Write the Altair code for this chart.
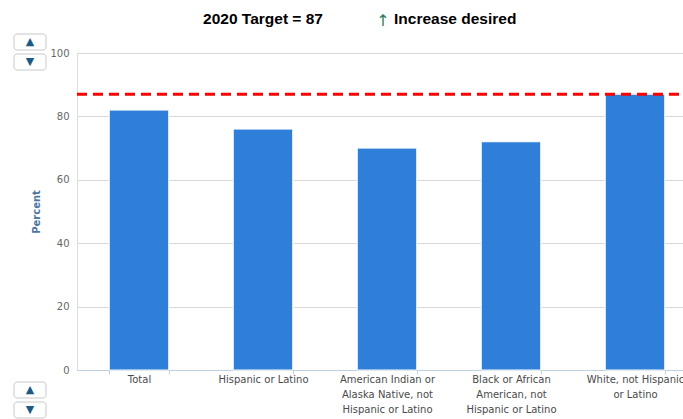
import altair as alt
import pandas as pd

categories = ["Total", "Hispanic or Latino",
              "American Indian or\nAlaska Native, not\nHispanic or Latino",
              "Black or African\nAmerican, not\nHispanic or Latino",
              "White, not Hispanic\nor Latino"]
values = [82, 76, 70, 72, 87]
target = [87]
y_ticks = [0, 20, 40, 60, 80, 100]

df = pd.DataFrame({"group": categories, "pct": values})
tdf = pd.DataFrame({"target": target})

W, H = 606, 317

x_enc = alt.X("group:N", sort=categories, title=None,
              scale=alt.Scale(range=[0, 620], paddingInner=0.52, paddingOuter=0.26),
              axis=alt.Axis(labelAngle=0, labelExpr="split(datum.label, '\\n')",
                            labelFont="DejaVu Sans", labelFontSize=10, labelColor="#4A4A4A",
                            labelLineHeight=15, labelPadding=0, labelBaseline="top",
                            domainColor="#C0D0E0", tickColor="#C0D0E0", tickSize=4,
                            tickBand="extent", grid=False, labelLimit=200))

bars = alt.Chart(df).mark_bar(color="#2F7ED8", stroke="#ffffff", strokeWidth=1).encode(
    x=x_enc,
    y=alt.Y("pct:Q", title="Percent",
            scale=alt.Scale(domain=[0, 100], nice=False),
            axis=alt.Axis(values=y_ticks, domain=False, ticks=False, gridColor="#D8D8D8",
                          labelFont="DejaVu Sans", labelFontSize=10, labelColor="#666666",
                          labelPadding=8, titleFont="DejaVu Sans", titleFontSize=10,
                          titleColor="#4D759E", titleFontWeight="bold", titlePadding=8)),
)

rule = alt.Chart(tdf).mark_rule(color="#FF0000", strokeWidth=3, strokeDash=[10, 6]).encode(
    y="target:Q", x=alt.value(0), x2=alt.value(W))

txt1 = alt.Chart(tdf).mark_text(text="2020 Target = 87", font="Liberation Sans", fontSize=15.5,
                                fontWeight="bold", align="center", baseline="middle",
                                color="#000000").encode(x=alt.value(186), y=alt.value(-34))
arrow = alt.Chart(tdf).mark_text(text="↑", font="DejaVu Sans", fontSize=16,
                                 align="center", baseline="middle",
                                 color="#2E7D5B").encode(x=alt.value(306), y=alt.value(-32))
txt2 = alt.Chart(tdf).mark_text(text="Increase desired", font="Liberation Sans", fontSize=15.5,
                                fontWeight="bold", align="left", baseline="middle",
                                color="#000000").encode(x=alt.value(317), y=alt.value(-34))

# navigation buttons (decoration, pixel positions relative to plot area)
btn_df = pd.DataFrame({"sym": ["▲", "▼", "▲", "▼"],
                       "y0": [-19, 1, 329, 349],
                       "y1": [-3, 17, 345, 365],
                       "yc": [-11, 9, 337, 357]})
btn_rect = alt.Chart(btn_df).mark_rect(fill="#ffffff", stroke="#C8C8C8", strokeWidth=1,
                                       cornerRadius=3).encode(
    x=alt.value(-63), x2=alt.value(-31),
    y=alt.Y("y0:Q", scale=None), y2="y1:Q")
btn_txt = alt.Chart(btn_df).mark_text(fontSize=11, color="#1C5A85", align="center",
                                      baseline="middle", font="DejaVu Sans").encode(
    x=alt.value(-47), y=alt.Y("yc:Q", scale=None), text="sym:N")

chart = alt.layer(bars, rule, txt1, arrow, txt2, btn_rect, btn_txt).properties(
    width=W, height=H,
    autosize=alt.AutoSizeParams(type="none"),
    padding={"left": 77, "top": 53, "right": 0, "bottom": 49},
).configure_view(stroke=None).configure(background="#ffffff")

chart.save("out.html", embed_options={"renderer": "svg", "actions": False})
